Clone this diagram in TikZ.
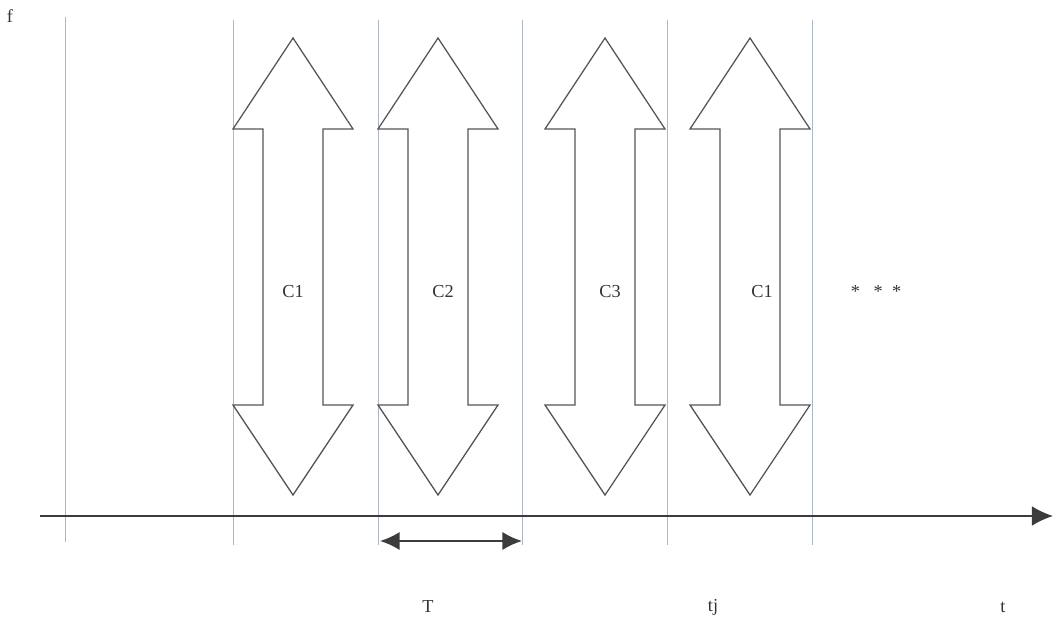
\documentclass[tikz,border=0pt]{standalone}
\usepackage{fontspec}
\setmainfont{Liberation Serif}
\usetikzlibrary{arrows.meta}
\definecolor{slotline}{RGB}{172,182,196}
\definecolor{outline}{RGB}{85,85,85}
\definecolor{axisgray}{RGB}{60,60,60}
% hollow double arrow standing at x = #1
\newcommand{\chanarrow}[1]{%
  \draw[chan] ({#1-60},129) -- (#1,38) -- ({#1+60},129) -- ({#1+30},129) -- ({#1+30},405)
    -- ({#1+60},405) -- (#1,495) -- ({#1-60},405) -- ({#1-30},405) -- ({#1-30},129) -- cycle;}
\begin{document}
\begin{tikzpicture}[x=0.025cm,y=-0.025cm,>=Latex,
    chan/.style={draw=outline,line width=0.9pt,fill=white,line join=miter},
    slot/.style={draw=slotline,line width=0.5pt},
    lbl/.style={font=\fontsize{13}{15}\selectfont,text=black!80,inner sep=0pt}]
  \useasboundingbox (0,0) rectangle (1054,620);
  % slot borders
  \draw[slot] (65,17) -- (65,542);
  \foreach \x in {233,378,522,667,812} \draw[slot] (\x,20) -- (\x,545);
  % time axis
  \coordinate (o) at (40,516);
  \coordinate (tend) at (1053,516);
  \draw[axisgray,line width=1pt,-{Latex[length=15pt,width=14pt]}] (o) -- (tend);
  % channels
  \chanarrow{293}
  \chanarrow{438}
  \chanarrow{605}
  \chanarrow{750}
  \node[lbl] (c1) at (293,292) {C1};
  \node[lbl] (c2) at (443,292) {C2};
  \node[lbl] (c3) at (610,292) {C3};
  \node[lbl] (c4) at (762,292) {C1};
  \node[lbl] (dots) at (876,292) {*\ \ \ *\ \ *};
  % slot length
  \coordinate (ta) at (380,541);
  \coordinate (tb) at (522,541);
  \draw[axisgray,line width=1.4pt,{Latex[length=14pt,width=13pt]}-{Latex[length=14pt,width=13pt]}] (ta) -- (tb);
  \node[lbl] (T) at (428,607) {T};
  \node[lbl] (tj) at (713,607) {tj};
  \node[lbl] (t) at (1003,607) {t};
  \node[lbl] (f) at (10,16) {f};
\end{tikzpicture}
\end{document}
